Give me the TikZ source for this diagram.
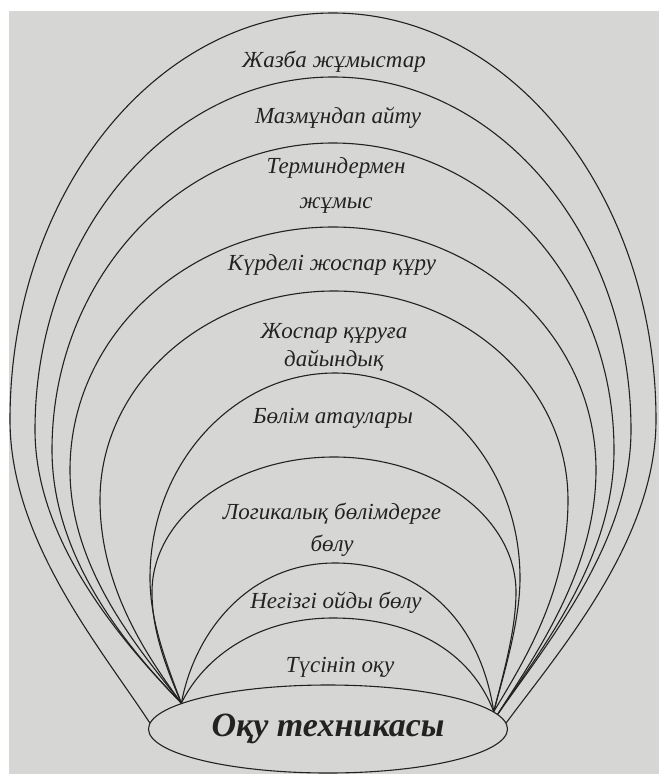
\documentclass[tikz,border=0pt]{standalone}
\usepackage{fontspec}
\setmainfont{Liberation Serif}
\usepackage{xcolor}
\usepackage{tikz}
\usetikzlibrary{shapes.geometric, positioning}
\definecolor{scangray}{RGB}{214,214,212}
\definecolor{inkgray}{RGB}{34,34,34}
\tikzset{
  archline/.style={
    draw=inkgray, line width=1.1pt
  },
  archlabel/.style={
    font=\fontsize{23}{32}\selectfont\itshape, text=inkgray,
    align=center, inner sep=0pt
  },
  basenode/.style={
    ellipse, draw=inkgray, line width=1.1pt, inner sep=0pt,
    minimum width=359pt, minimum height=88pt,
    font=\fontsize{34}{38}\selectfont\bfseries\itshape, text=inkgray
  },
}

\begin{document}
\begin{tikzpicture}[x=1pt, y=-1pt]
  % === Page ===
  \useasboundingbox (0,0) rectangle (659,774);
  \fill[white] (0,0) rectangle (659,774);
  \fill[scangray] (9,11) rectangle (659,774);

  % === Base ===
  \node[basenode] (okutech) at (328,729) {Оқу техникасы};

  % === Arches (outer to inner) ===
  \draw[archline] (okutech.178) .. controls (100,647) and (10,540) .. (10,420)
    arc[start angle=180, end angle=360, x radius=323, y radius=407]
    .. controls (656,540) and (560,650) .. (okutech.2);

  \draw[archline] (okutech.170) .. controls (120,640) and (35,540) .. (35,430)
    arc[start angle=180, end angle=360, x radius=298, y radius=353]
    .. controls (631,540) and (550,640) .. (okutech.5);

  \draw[archline] (okutech.170) .. controls (130,650) and (52,560) .. (52,450)
    arc[start angle=180, end angle=360, x radius=281, y radius=307]
    .. controls (614,560) and (540,650) .. (okutech.5);

  \draw[archline] (okutech.170) .. controls (140,650) and (70,570) .. (70,470)
    arc[start angle=180, end angle=360, x radius=263, y radius=243]
    .. controls (596,570) and (535,655) .. (okutech.5);

  \draw[archline] (okutech.170) .. controls (150,660) and (100,590) .. (100,500)
    arc[start angle=180, end angle=360, x radius=234, y radius=209]
    .. controls (568,590) and (525,660) .. (okutech.6);

  \draw[archline] (okutech.170) .. controls (165,660) and (150,620) .. (150,578)
    arc[start angle=180, end angle=360, x radius=185, y radius=205]
    .. controls (520,620) and (505,670) .. (okutech.6);

  \draw[archline] (okutech.170) .. controls (165,665) and (152,630) .. (152,592)
    arc[start angle=180, end angle=360, x radius=182, y radius=135]
    .. controls (516,630) and (503,675) .. (okutech.6);

  \draw[archline] (okutech.170) .. controls (195,630) and (250,563) .. (335,563)
    .. controls (420,563) and (480,620) .. (okutech.6);

  \draw[archline] (okutech.170) .. controls (205,655) and (260,618) .. (333,618)
    .. controls (410,618) and (470,650) .. (okutech.6);

  % === Labels ===
  \node[archlabel] (zhazba) at (334,62) {Жазба жұмыстар};
  \node[archlabel] (mazmun) at (338,118) {Мазмұндап айту};
  \node[archlabel, font=\fontsize{23}{35}\selectfont\itshape] (termin) at (336,185) {Терминдермен\\жұмыс};
  \node[archlabel] (kurdeli) at (332,265) {Күрделі жоспар құру};
  \node[archlabel, font=\fontsize{23}{28}\selectfont\itshape] (zhospar) at (334,347) {Жоспар құруға\\дайындық};
  \node[archlabel] (bolim) at (333,418) {Бөлім атаулары};
  \node[archlabel] (logika) at (332,530) {Логикалық бөлімдерге\\бөлу};
  \node[archlabel] (negizgi) at (336,603) {Негізгі ойды бөлу};
  \node[archlabel] (tusinip) at (340,667) {Түсініп оқу};

\end{tikzpicture}
\end{document}
